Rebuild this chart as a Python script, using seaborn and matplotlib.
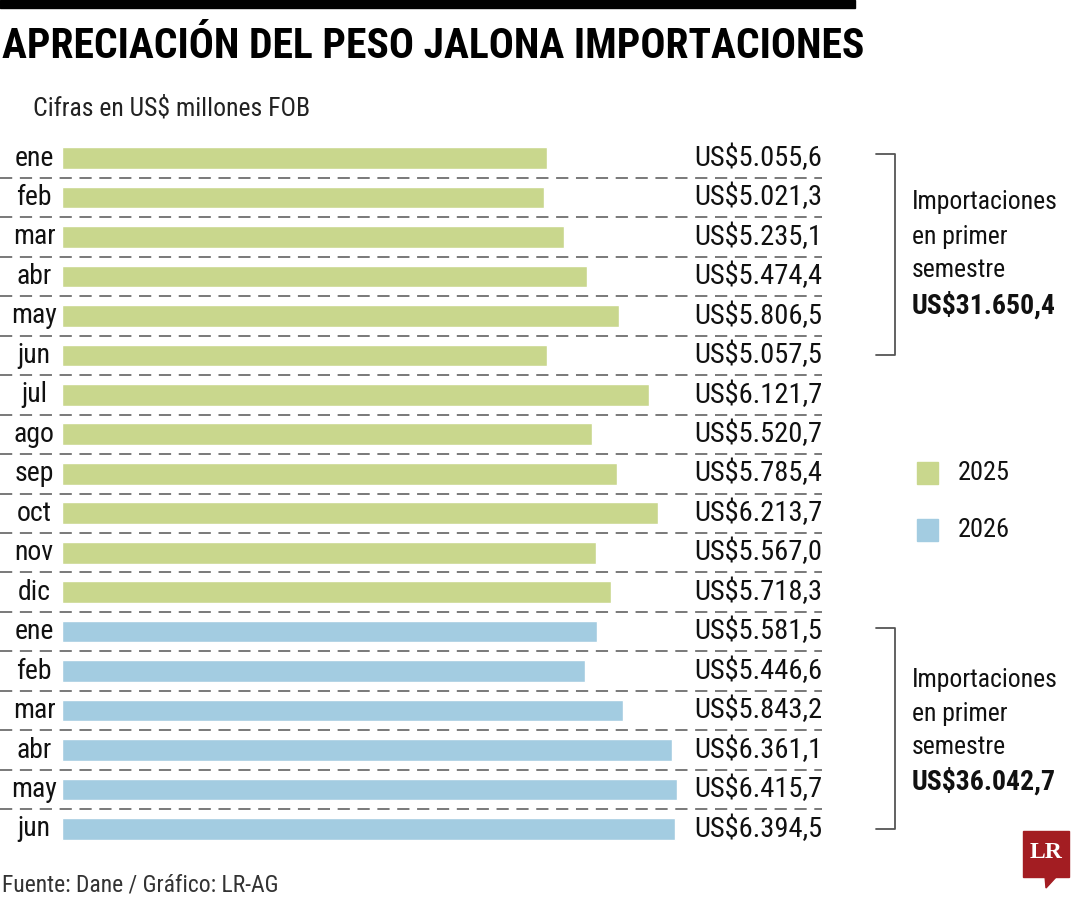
import pandas as pd
import seaborn as sns
import matplotlib.pyplot as plt
from matplotlib.patches import Rectangle, Polygon

# Data
meses = ['ene', 'feb', 'mar', 'abr', 'may', 'jun', 'jul', 'ago', 'sep', 'oct', 'nov', 'dic',
         'ene', 'feb', 'mar', 'abr', 'may', 'jun']
anios = ['2025'] * 12 + ['2026'] * 6
valores = [5055.6, 5021.3, 5235.1, 5474.4, 5806.5, 5057.5, 6121.7, 5520.7, 5785.4,
           6213.7, 5567.0, 5718.3, 5581.5, 5446.6, 5843.2, 6361.1, 6415.7, 6394.5]
totales = ['US$31.650,4', 'US$36.042,7']

colores = {'2025': '#c9d78d', '2026': '#a3cce1'}
fuente = ['Roboto Condensed', 'DejaVu Sans']


def fmt(v):
    s = f"{v:,.1f}".replace(',', 'X').replace('.', ',').replace('X', '.')
    return 'US$' + s


df = pd.DataFrame({'fila': [f"{m} {a}" for m, a in zip(meses, anios)],
                   'mes': meses, 'anio': anios, 'valor': valores})

sns.set_theme(style='white')
plt.rcParams['font.family'] = fuente

W, H = 1080, 900
fig = plt.figure(figsize=(W / 100, H / 100), dpi=100)

# axes spans px x 0..822 and y 138..849
ax = fig.add_axes([0, 1 - 848.7 / H, 822 / W, (848.7 - 138.3) / H])
sns.barplot(data=df, x='valor', y='fila', hue='anio', palette=colores, dodge=False,
            width=0.55, orient='h', legend=False, ax=ax, saturation=1)

k = 485 / 5055.6  # px per unit
x0 = -62 / k
ax.set_xlim(x0, x0 + 822 / k)
ax.set_ylim(len(meses) - 0.5, -0.5)
ax.set_axis_off()


def px2x(px):
    return x0 + px / k


for i in range(len(meses) - 1):
    ax.axhline(i + 0.5, color='#555555', lw=1.1, ls=(0, (8, 5)))

for i, (m, v) in enumerate(zip(meses, valores)):
    ax.text(px2x(34), i, m, ha='center', va='center', fontsize=20, color='#111111')
    ax.text(px2x(822), i, fmt(v), ha='right', va='center', fontsize=20.5, color='#111111')

# brackets
for (r0, r1) in [(0, 5), (12, 17)]:
    ax.plot([px2x(876), px2x(895), px2x(895), px2x(876)],
            [r0 - 0.1, r0 - 0.1, r1, r1], color='#555555', lw=1.3, clip_on=False)

# bracket notes
for ys, tot in zip([(202, 237, 270, 305), (680, 714, 747, 781)], totales):
    for y, t in zip(ys[:3], ['Importaciones', 'en primer', 'semestre']):
        fig.text(912 / W, 1 - y / H, t, ha='left', va='center', fontsize=18.5, color='#111111')
    fig.text(912 / W, 1 - ys[3] / H, tot, ha='left', va='center', fontsize=20,
             fontweight='bold', color='#111111')

# legend
for yc, anio in [(473, '2025'), (530, '2026')]:
    fig.patches.append(Rectangle((917 / W, 1 - (yc + 11) / H), 21 / W, 22 / H,
                                 transform=fig.transFigure, color=colores[anio]))
    fig.text(958 / W, 1 - yc / H, anio, ha='left', va='center', fontsize=19, color='#111111')

# header
fig.patches.append(Rectangle((0, 1 - 8 / H), 855 / W, 8 / H, transform=fig.transFigure,
                             color='black'))
fig.text(2 / W, 1 - 46 / H, 'APRECIACIÓN DEL PESO JALONA IMPORTACIONES', ha='left',
         va='center', fontsize=30, fontweight='bold', color='black')
fig.text(33 / W, 1 - 108 / H, 'Cifras en US$ millones FOB', ha='left', va='center',
         fontsize=18.5, color='#222222')
fig.text(2 / W, 1 - 885 / H, 'Fuente: Dane / Gráfico: LR-AG', ha='left', va='center',
         fontsize=17, color='#333333')

# LR logo
red = '#a31d22'
fig.patches.append(Rectangle((1023 / W, 1 - 877 / H), 46 / W, 46 / H,
                             transform=fig.transFigure, color=red))
fig.patches.append(Polygon([(1045 / W, 1 - 876 / H), (1057 / W, 1 - 876 / H),
                            (1046 / W, 1 - 888 / H)], closed=True,
                           transform=fig.transFigure, color=red))
fig.text(1046 / W, 1 - 853 / H, 'LR', ha='center', va='center', fontsize=17,
         fontweight='bold', color='white', family=['Liberation Serif', 'DejaVu Serif'])

fig.savefig('out.png', dpi=100)
